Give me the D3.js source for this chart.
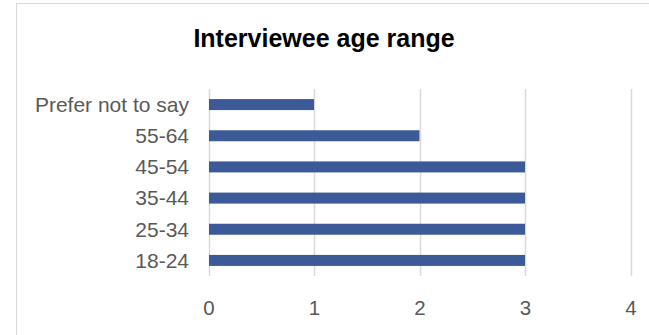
<!DOCTYPE html>
<html><head><meta charset="utf-8">
<script src="https://cdn.jsdelivr.net/npm/d3@7"></script>
<style>body{margin:0;background:#fff}svg{display:block}</style>
</head><body>
<svg id="c" width="649" height="335"></svg>
<script>
const title = "Interviewee age range";
const categories = ["Prefer not to say", "55-64", "45-54", "35-44", "25-34", "18-24"];
const values = [1, 2, 3, 3, 3, 3];
const xTicks = [0, 1, 2, 3, 4];

const svg = d3.select("#c");
svg.append("rect").attr("x", 16.5).attr("y", 3.5).attr("width", 800).attr("height", 500)
  .attr("fill", "#fff").attr("stroke", "#d9d9d9").attr("stroke-width", 1);

svg.append("text").attr("x", 324).attr("y", 47).attr("text-anchor", "middle")
  .attr("font-family", "Liberation Sans, Arial, sans-serif").attr("font-weight", "bold")
  .attr("font-size", 25).attr("fill", "#000").text(title);

const x = d3.scaleLinear().domain([0, 4]).range([208.5, 630.5]);
const y = d3.scaleBand().domain(categories).range([89, 276]).paddingInner(0.647).paddingOuter(0.3235);

// gridlines
svg.append("g").selectAll("line").data(xTicks).join("line")
  .attr("x1", d => Math.round(x(d)) + 0.5).attr("x2", d => Math.round(x(d)) + 0.5)
  .attr("y1", 89).attr("y2", 276)
  .attr("stroke", "#d9d9d9").attr("stroke-width", 1.5);

// bars
svg.append("g").selectAll("rect").data(values).join("rect")
  .attr("x", x(0) + 0.5).attr("y", (d, i) => y(categories[i]))
  .attr("width", d => x(d) - x(0) - 0.5).attr("height", y.bandwidth())
  .attr("fill", "#3c5a97");

// x axis labels
const xAxis = d3.axisBottom(x).tickValues(xTicks).tickSize(0).tickPadding(0).tickFormat(d3.format("d"));
const gx = svg.append("g").attr("transform", "translate(0,300)").call(xAxis);
gx.select(".domain").remove();
gx.selectAll("text").attr("font-family", "Liberation Sans, Arial, sans-serif")
  .attr("font-size", 20.5).attr("fill", "#595959").attr("dy", "0.72em").attr("y", 0);

// y axis labels
const yAxis = d3.axisLeft(y).tickSize(0).tickPadding(0);
const gy = svg.append("g").attr("transform", "translate(189,0)").call(yAxis);
gy.select(".domain").remove();
gy.selectAll("text").attr("font-family", "Liberation Sans, Arial, sans-serif")
  .attr("font-size", 21).attr("fill", "#595959").attr("dy", "0.35em");
</script>
</body></html>
